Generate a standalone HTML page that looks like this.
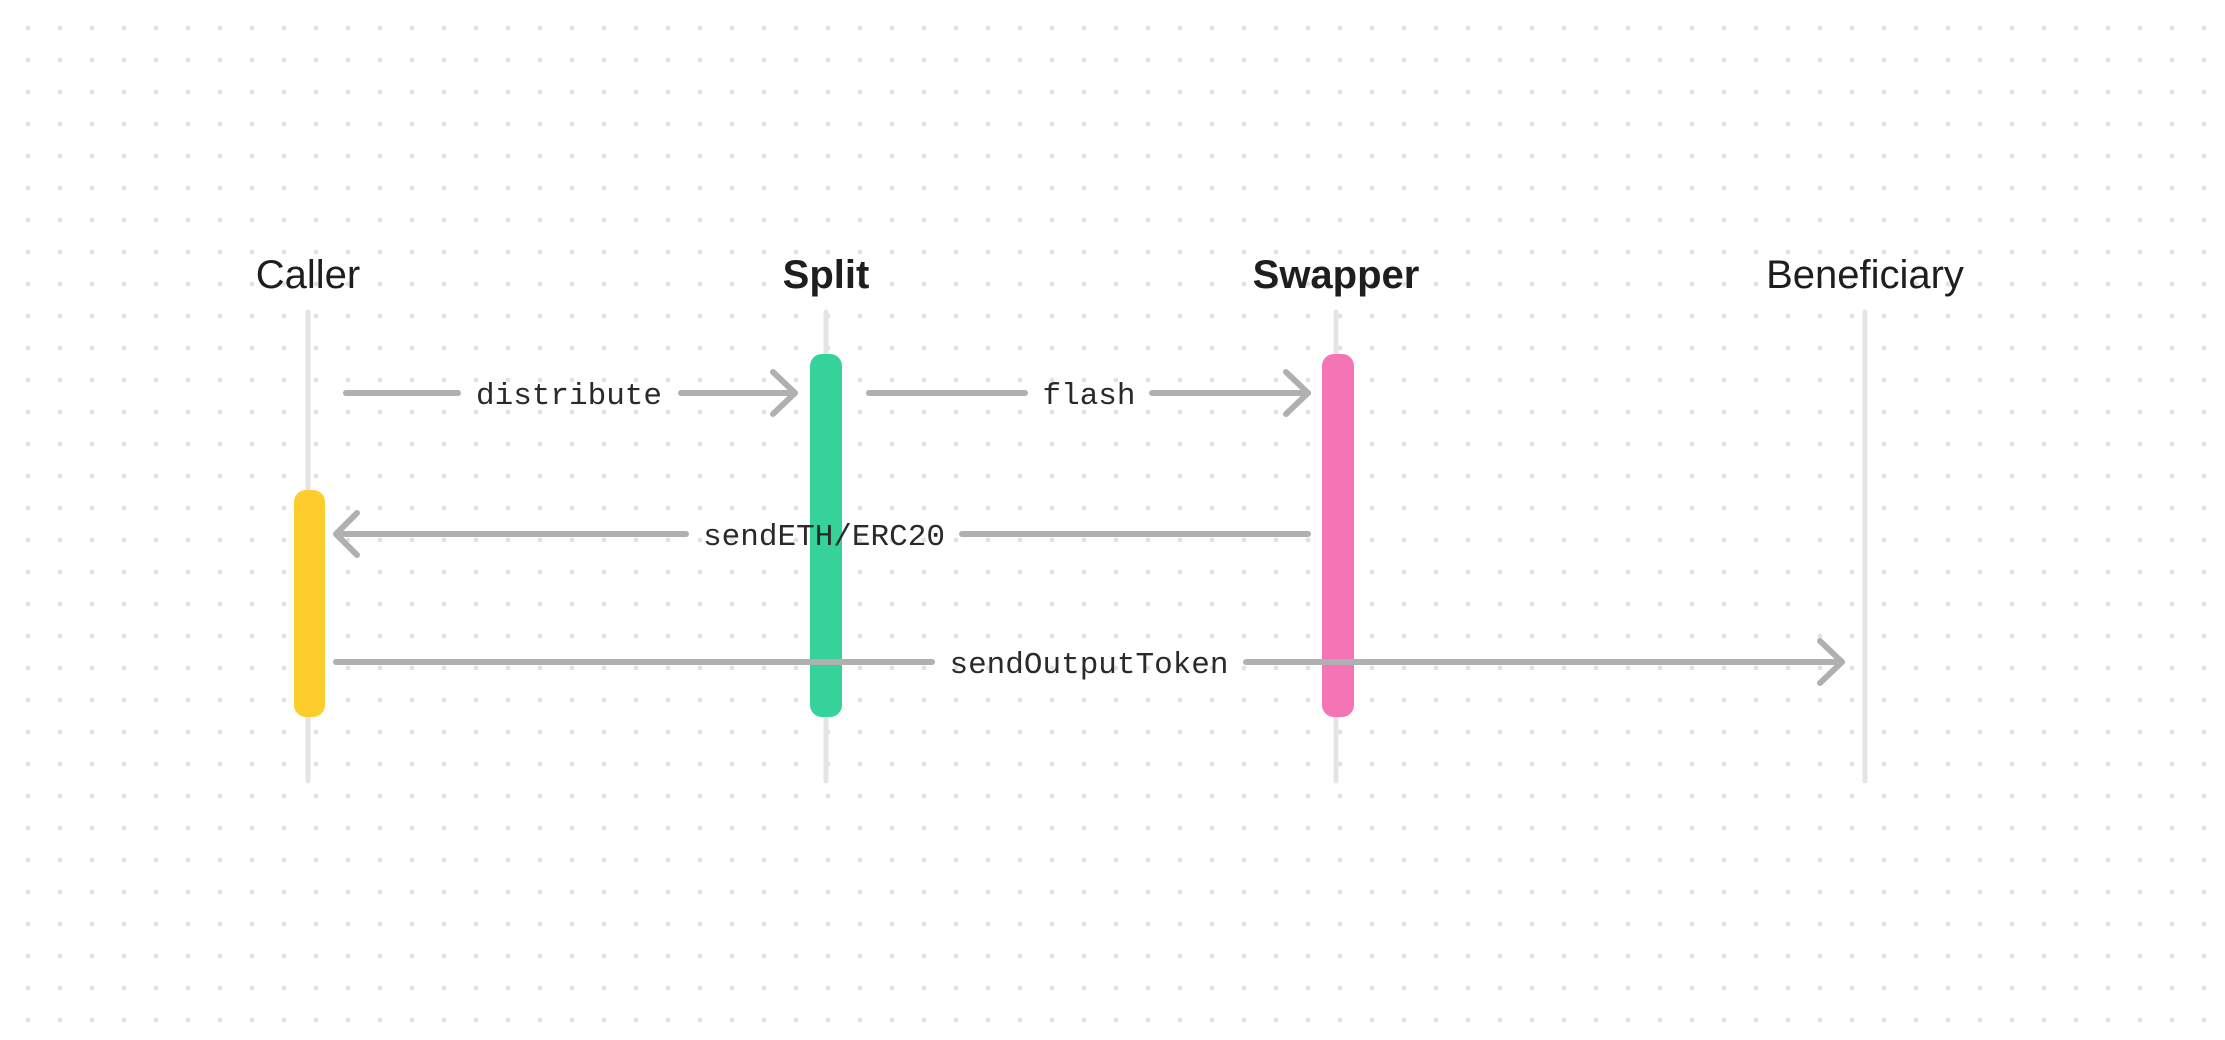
<!DOCTYPE html>
<html><head><meta charset="utf-8"><style>
html,body{margin:0;padding:0;background:#fff;}
body{width:2225px;height:1040px;overflow:hidden;position:relative;
background-image:radial-gradient(circle,#e2e2e2 2.2px,transparent 2.6px);
background-size:32px 32px;background-position:12px 12px;}
svg{position:absolute;left:0;top:0;}
</style></head><body>
<svg width="2225" height="1040" viewBox="0 0 2225 1040">
<g font-family="Liberation Sans, Arial, sans-serif" font-size="40" fill="#1e1e1e" text-anchor="middle">
<text x="308" y="288">Caller</text>
<text x="826" y="288" font-weight="bold">Split</text>
<text x="1336" y="288" font-weight="bold">Swapper</text>
<text x="1865" y="288">Beneficiary</text>
</g>
<g stroke="#e4e4e4" stroke-width="5" stroke-linecap="round">
<line x1="308" y1="312" x2="308" y2="781"/>
<line x1="826" y1="312" x2="826" y2="781"/>
<line x1="1336" y1="312" x2="1336" y2="781"/>
<line x1="1865" y1="312" x2="1865" y2="781"/>
</g>
<rect x="294" y="490" width="31" height="227" rx="12" fill="#fdcd2c"/>
<rect x="810" y="354" width="32" height="363" rx="12" fill="#35d399"/>
<rect x="1322" y="354" width="32" height="363" rx="12" fill="#f474b6"/>
<g stroke="#b0b0b0" stroke-width="6" stroke-linecap="round" stroke-linejoin="round" fill="none">
<line x1="346" y1="393" x2="458" y2="393"/>
<line x1="681" y1="393" x2="795" y2="393"/>
<polyline points="773,372 795,393 773,414"/>
<line x1="869" y1="393" x2="1025" y2="393"/>
<line x1="1152" y1="393" x2="1308" y2="393"/>
<polyline points="1286,372 1308,393 1286,414"/>
<line x1="1308" y1="534" x2="962" y2="534"/>
<line x1="686" y1="534" x2="336" y2="534"/>
<polyline points="357,513 336,534 357,555"/>
<line x1="336" y1="662" x2="932" y2="662"/>
<line x1="1246" y1="662" x2="1842" y2="662"/>
<polyline points="1820,641 1842,662 1820,683"/>
</g>
<g font-family="Liberation Mono, monospace" font-size="31" fill="#2a2a2a" text-anchor="middle">
<text x="569" y="404">distribute</text>
<text x="1089" y="404">flash</text>
<text x="824" y="545">sendETH/ERC20</text>
<text x="1089" y="673">sendOutputToken</text>
</g>
</svg>
</body></html>
